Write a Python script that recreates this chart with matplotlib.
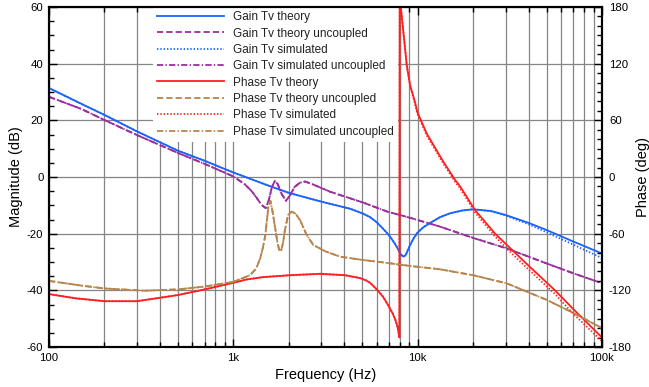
import matplotlib
matplotlib.use('Agg')
import matplotlib.pyplot as plt
from matplotlib.ticker import LogLocator, MultipleLocator, NullFormatter

plt.rcParams['font.family'] = ['Liberation Sans', 'DejaVu Sans']
plt.rcParams['axes.unicode_minus'] = False
plt.rcParams['lines.scale_dashes'] = False

# magnitude (dB), left axis
f_gain = [100, 150, 200, 300, 500, 700, 1000, 1500, 2000, 3000, 4300, 5000, 5500, 6000, 6500,
          7000, 7500, 7800, 8100, 8350, 8600, 8850, 9100, 9500, 9900, 10700, 11700, 13200,
          15000, 17500, 20000, 25000, 30000, 40000, 50000, 70000, 100000]
gain_theory = [31.4, 25.8, 21.9, 16.1, 9.3, 5.7, 1.6, -2.7, -5.6, -8.7, -11.2, -12.8, -14.1, -16.0, -18.3,
               -20.6, -23.4, -25.3, -27.3, -28.1, -27.6, -25.8, -24.0, -21.7, -19.9, -17.8, -16.2, -14.2,
               -12.8, -11.8, -11.4, -12.0, -13.4, -16.2, -18.7, -22.8, -27.0]
gain_sim = [31.4, 25.8, 21.9, 16.1, 9.3, 5.7, 1.6, -2.7, -5.6, -8.7, -11.2, -12.8, -14.1, -16.0, -18.3,
            -20.6, -23.4, -25.3, -27.3, -28.1, -27.6, -25.8, -24.0, -21.7, -19.9, -17.8, -16.2, -14.2,
            -12.8, -11.8, -11.4, -12.1, -13.6, -16.7, -19.5, -23.9, -28.6]

f_unc = [100, 150, 200, 300, 500, 700, 1000, 1150, 1250, 1340, 1420, 1500, 1560, 1620, 1682,
         1740, 1830, 1931, 2030, 2150, 2300, 2450, 2700, 3350, 5100, 6830, 9100, 13200, 20000,
         30400, 50000, 70000, 100000]
gain_unc_theory = [28.3, 24.0, 20.1, 14.8, 8.5, 4.6, 0.2, -2.5, -4.8, -7.4, -9.8, -11.0, -8.0, -3.5, -1.3,
                   -2.5, -6.0, -8.4, -6.5, -3.5, -2.0, -1.6, -2.6, -5.2, -9.1, -12.2, -14.4, -17.5, -21.5,
                   -25.2, -30.5, -34.0, -37.5]
gain_unc_sim = gain_unc_theory

# phase (deg), right axis
f_phase = [100, 140, 200, 300, 500, 700, 1000, 1180, 1450, 2030, 2950, 4040, 4860, 5250, 5520,
           6000, 6500, 6930, 7100, 7300, 7560, 7700, 7800, 7960, 7990, 8130, 8350, 8730, 9100,
           9650, 10000, 11200, 12000, 13800, 15950, 17000, 20470, 26300, 30500, 40000, 55600,
           70000, 100000]
phase_theory = [-124, -128.5, -131.5, -131.5, -125, -119, -112, -108.5, -106, -104, -102.5, -104, -107, -109.5, -112,
                -119, -127, -136, -140, -144, -151, -156, -160, -170, 195, 177, 155, 118, 97,
                80, 68, 46, 36, 16, -3, -10, -35, -60, -72, -94, -120,
                -140, -170]
phase_sim = [-124, -128.5, -131.5, -131.5, -125, -119, -112, -108.5, -106, -104, -102.5, -104, -107, -109.5, -112,
             -119, -127, -136, -140, -144, -151, -156, -160, -170, 195, 177, 155, 118, 97,
             78, 66, 44, 34, 14, -5, -12, -37.5, -63, -76, -98, -124,
             -145, -174]

f_ph_unc = [100, 150, 200, 330, 500, 700, 1000, 1230, 1330, 1400, 1450, 1490, 1550, 1590, 1630,
            1682, 1730, 1772, 1810, 1860, 1905, 1984, 2074, 2180, 2300, 2500, 2716, 3180, 3800,
            5100, 6250, 9100, 13200, 20000, 30400, 50000, 70000, 100000]
phase_unc_theory = [-110, -115, -118, -120.4, -119, -116, -111, -104, -97, -86, -74, -62, -31, -25.4, -36,
                    -52.6, -68, -77, -79, -70, -56, -40, -36.7, -39, -45.5, -61.4, -72, -79, -84.4,
                    -88, -90, -94.2, -97.7, -104, -112.6, -130, -144, -160]
phase_unc_sim = phase_unc_theory

xtick_values = [100, 1000, 10000, 100000]
xtick_labels = ['100', '1k', '10k', '100k']

blue = '#1a62ff'
purple = '#9a2f9e'
red = '#ff1f1f'
brown = '#b8854d'
dash = (0, (4.5, 2.2))
dot = (0, (1.0, 1.4))
dashdot = (0, (4.5, 1.6, 1.0, 1.6))
lw = 1.3

fig = plt.figure(figsize=(6.49, 3.87), dpi=100)
ax = fig.add_axes([49 / 649, 40 / 387, 553 / 649, 340 / 387])
ax2 = ax.twinx()

h = []
h += ax.plot(f_gain, gain_theory, color=blue, lw=lw, ls='-', label='Gain Tv theory')
h += ax.plot(f_unc, gain_unc_theory, color=purple, lw=lw, ls=dash, label='Gain Tv theory uncoupled')
h += ax.plot(f_gain, gain_sim, color=blue, lw=lw, ls=dot, label='Gain Tv simulated')
h += ax.plot(f_unc, gain_unc_sim, color=purple, lw=lw, ls=dashdot, label='Gain Tv simulated uncoupled')
h += ax2.plot(f_phase, phase_theory, color=red, lw=lw, ls='-', label='Phase Tv theory')
h += ax2.plot(f_ph_unc, phase_unc_theory, color=brown, lw=lw, ls=dash, label='Phase Tv theory uncoupled')
h += ax2.plot(f_phase, phase_sim, color=red, lw=lw, ls=dot, label='Phase Tv simulated')
h += ax2.plot(f_ph_unc, phase_unc_sim, color=brown, lw=lw, ls=dashdot, label='Phase Tv simulated uncoupled')

ax.set_xscale('log')
ax.set_xlim(100, 100000)
ax.set_ylim(-60, 60)
ax2.set_ylim(-180, 180)
ax.set_xticks(xtick_values, xtick_labels)
ax.xaxis.set_minor_locator(LogLocator(base=10, subs=range(2, 10)))
ax.xaxis.set_minor_formatter(NullFormatter())
ax.set_yticks(range(-60, 61, 20))
ax.yaxis.set_minor_locator(MultipleLocator(5))
ax2.set_yticks(range(-180, 181, 60))
ax2.yaxis.set_minor_locator(MultipleLocator(10))

ax.grid(True, which='both', axis='x', color='#858585', lw=0.9)
ax.grid(True, which='major', axis='y', color='#858585', lw=0.9)

ax.tick_params(which='both', direction='in', top=True, right=False, labelsize=8.2, width=1, pad=4)
ax.tick_params(which='major', length=6)
ax.tick_params(which='minor', length=3.5)
ax2.tick_params(which='both', direction='in', labelsize=8.2, width=1, pad=5)
ax2.tick_params(which='major', length=6)
ax2.tick_params(which='minor', length=3.5)
for a in (ax, ax2):
    for s in a.spines.values():
        s.set_linewidth(1.5)
        s.set_color('black')

ax.set_xlabel('Frequency (Hz)', fontsize=10.5)
ax.set_ylabel('Magnitude (dB)', fontsize=10.5)
ax2.set_ylabel('Phase (deg)', fontsize=10.5)
ax.yaxis.set_label_coords(-26 / 553, 0.5)
ax2.yaxis.set_label_coords((636 - 49) / 553, 0.5)

# legend sits over the grid but under the curves
leg = ax.legend(h, [l.get_label() for l in h], loc='upper left',
                bbox_to_anchor=((153 - 49) / 553, 1.0), fontsize=8.5,
                frameon=True, fancybox=False, facecolor='white', edgecolor='none',
                framealpha=1, borderpad=0.35, borderaxespad=0, handlelength=5.7,
                handletextpad=0.75, labelspacing=0.37)
leg.set_zorder(1.8)
for t in leg.get_texts():
    t.set_color('#222222')

fig.savefig('out.png', dpi=100)
